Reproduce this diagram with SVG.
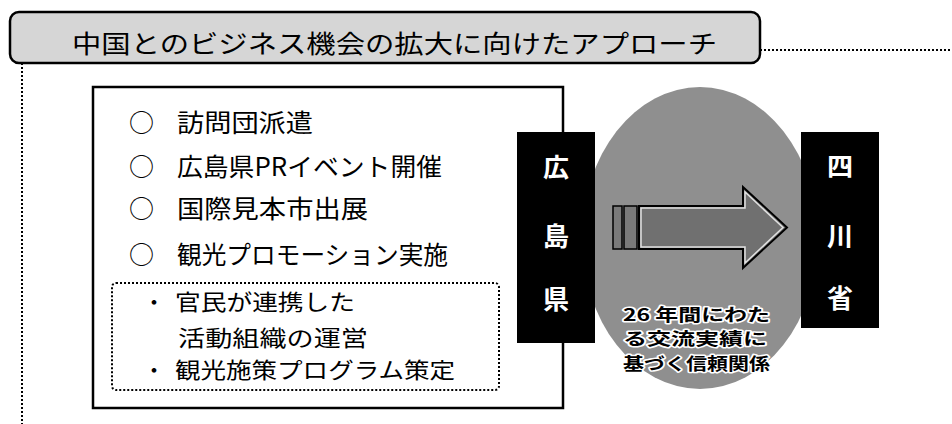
<svg xmlns="http://www.w3.org/2000/svg" width="952" height="424" viewBox="0 0 952 424">
<style>
  text { font-family: "Noto Sans CJK JP", "Noto Sans", sans-serif; dominant-baseline: central; }
  .list { font-size: 25px; fill: #000; }
  .sub { font-size: 22px; fill: #000; }
  .vert { font-size: 26px; fill: #fff; text-anchor: middle; font-weight: bold; }
  .oval { font-size: 17px; fill: #000; stroke: #fff; stroke-width: 3px; paint-order: stroke; stroke-linejoin: round; font-weight: bold; }
  .dot { fill: none; stroke: #000; stroke-width: 2; stroke-dasharray: 2 2; }
</style>
<rect width="952" height="424" fill="#fff"/>
<g id="connectors">
  <line class="dot" x1="760" y1="50" x2="952" y2="50"/>
  <line class="dot" x1="22" y1="63" x2="22" y2="424"/>
</g>
<g id="title">
  <rect x="10" y="12" width="750" height="51" rx="9" fill="#d6d6d6" stroke="#000" stroke-width="2.5"/>
  <text x="72" y="42" font-size="25" textLength="645" lengthAdjust="spacingAndGlyphs">中国とのビジネス機会の拡大に向けたアプローチ</text>
</g>
<g id="activities">
  <rect x="93" y="87" width="470" height="321" fill="#fff" stroke="#000" stroke-width="2.5"/>
  <text class="list" x="129" y="121">○</text>
  <text class="list" x="177" y="121" textLength="136" lengthAdjust="spacingAndGlyphs">訪問団派遣</text>
  <text class="list" x="129" y="165">○</text>
  <text class="list" x="177" y="165" textLength="265" lengthAdjust="spacingAndGlyphs">広島県PRイベント開催</text>
  <text class="list" x="129" y="207">○</text>
  <text class="list" x="177" y="207" textLength="191" lengthAdjust="spacingAndGlyphs">国際見本市出展</text>
  <text class="list" x="129" y="253">○</text>
  <text class="list" x="177" y="253" textLength="271" lengthAdjust="spacingAndGlyphs">観光プロモーション実施</text>
</g>
<g id="sub-activities">
  <rect class="dot" x="112" y="283" width="387" height="107" rx="4"/>
  <text class="sub" x="143" y="300">・</text>
  <text class="sub" x="175" y="300" textLength="180" lengthAdjust="spacingAndGlyphs">官民が連携した</text>
  <text class="sub" x="178" y="336" textLength="190" lengthAdjust="spacingAndGlyphs">活動組織の運営</text>
  <text class="sub" x="143" y="368">・</text>
  <text class="sub" x="175" y="368" textLength="280" lengthAdjust="spacingAndGlyphs">観光施策プログラム策定</text>
</g>
<g id="relationship">
  <ellipse cx="700" cy="238" rx="118" ry="151" fill="#8f8f8f"/>
  <g id="arrow">
    <rect x="613" y="206" width="9" height="43" fill="#7a7a7a" stroke="#000" stroke-width="1.5"/>
    <rect x="624" y="206" width="13" height="43" fill="#7a7a7a" stroke="#000" stroke-width="1.5"/>
    <path d="M639,206 H743 V187 L787,227.5 L743,268 V249 H639 Z" fill="#707070" stroke="#000" stroke-width="2"/>
    <path d="M641,208 H745 V192 L783,227.5 L745,263 V247 H641 Z" fill="none" stroke="#e0e0e0" stroke-width="1.5"/>
  </g>
  <text class="oval" x="623" y="313" textLength="147" lengthAdjust="spacingAndGlyphs">26 年間にわた</text>
  <text class="oval" x="623" y="337" textLength="144" lengthAdjust="spacingAndGlyphs">る交流実績に</text>
  <text class="oval" x="623" y="362" textLength="147" lengthAdjust="spacingAndGlyphs">基づく信頼関係</text>
</g>
<g id="hiroshima">
  <rect x="517" y="132" width="78" height="211" fill="#000"/>
  <text class="vert" x="556" y="165">広</text>
  <text class="vert" x="556" y="234">島</text>
  <text class="vert" x="556" y="297">県</text>
</g>
<g id="sichuan">
  <rect x="801" y="132" width="78" height="196" fill="#000"/>
  <text class="vert" x="840" y="164">四</text>
  <text class="vert" x="840" y="234">川</text>
  <text class="vert" x="840" y="296">省</text>
</g>
</svg>
